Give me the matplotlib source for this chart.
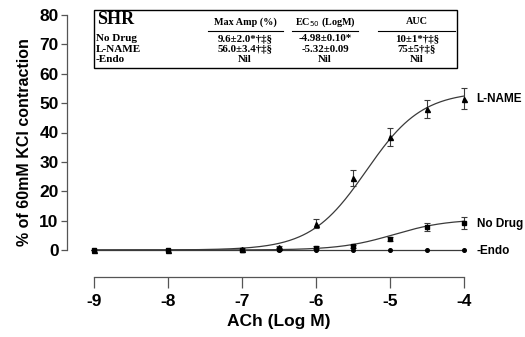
import numpy as np
import matplotlib
matplotlib.use("Agg")
import matplotlib.pyplot as plt

# concentration-response data (ACh, log M)
logAch = [-9, -8, -7, -6.5, -6, -5.5, -5, -4.5, -4]
lname = [0, 0, 0.3, 1.0, 9.0, 24.5, 38.5, 48.0, 51.5]
lnameErr = [0, 0, 0.3, 0.5, 1.5, 2.8, 3.0, 3.0, 3.5]
noDrug = [0, 0, 0, 0.5, 0.8, 1.2, 3.8, 7.8, 9.3]
noDrugErr = [0, 0, 0, 0.3, 0.4, 0.5, 0.6, 1.3, 2.0]
endo = [0, 0, 0, 0, 0, 0, 0, 0, 0]

# sigmoid fit parameters (top, logEC50, slope)
lnameFit = (54.0, -5.32, 1.15)
noDrugFit = (10.5, -4.95, 1.2)

tableHeaders = ["Max Amp (%)", r"EC$_{50}$ (LogM)", "AUC"]
tableRows = ["No Drug", "L-NAME", "-Endo"]
tableCells = [["9.6±2.0*†‡§", "-4.98±0.10*", "10±1*†‡§"],
              ["56.0±3.4†‡§", "-5.32±0.09", "75±5†‡§"],
              ["Nil", "Nil", "Nil"]]

W, H = 525, 337
fig = plt.figure(figsize=(W / 100, H / 100), dpi=100)

# axes placed in pixel terms: y spine at x=67, -9 at x=94, -4 at x=464
pxPerDec = 74.0
x0 = -9 - (94 - 67) / pxPerDec
x1 = -4 + (W - 464) / pxPerDec
pxPerUnit = (250 - 15) / 80.0
yBot = -(277 - 250) / pxPerUnit
yTop = 80 + (15 - 8) / pxPerUnit
ax = fig.add_axes([67 / W, (H - 277) / H, (W - 67) / W, (277 - 8) / H])
ax.set_xlim(x0, x1)
ax.set_ylim(yBot, yTop)

xs = np.linspace(-9, -4, 300)


def hill(x, top, ec50, slope):
    return top / (1 + 10 ** (slope * (ec50 - x)))


lc = "#3a3a3a"
ax.plot(xs, hill(xs, *lnameFit), color=lc, lw=0.9, clip_on=False)
ax.plot(xs, hill(xs, *noDrugFit), color=lc, lw=0.9, clip_on=False)
ax.plot(logAch, endo, color=lc, lw=0.9, clip_on=False)

ebKw = dict(ecolor=lc, elinewidth=0.8, capsize=2.5, capthick=0.8,
            linestyle="none", color="black", clip_on=False)
ax.errorbar(logAch, lname, yerr=lnameErr, marker="^", ms=3.6, **ebKw)
ax.errorbar(logAch, noDrug, yerr=noDrugErr, marker="s", ms=3.2, **ebKw)
ax.errorbar(logAch, endo, marker="o", ms=2.6, linestyle="none",
            color="black", clip_on=False)

lblKw = dict(fontsize=8.5, fontweight="bold", family="Liberation Sans",
             va="center", ha="left")
ax.text(-3.83, 51.3, "L-NAME", **lblKw)
ax.text(-3.83, 9.0, "No Drug", **lblKw)
ax.text(-3.83, -0.3, "-Endo", **lblKw)

for s in ["top", "right"]:
    ax.spines[s].set_visible(False)
ax.spines["left"].set_bounds(0, 80)
ax.spines["bottom"].set_bounds(-9, -4)
for s in ["left", "bottom"]:
    ax.spines[s].set_color("#555555")
    ax.spines[s].set_linewidth(0.9)

ax.set_yticks(range(0, 81, 10))
ax.set_xticks([-9, -8, -7, -6, -5, -4])
ax.set_xticklabels(["-9", "-8", "-7", "-6", "-5", "-4"])
ax.tick_params(axis="y", direction="out", length=4, width=0.9,
               color="#555555", labelsize=12.5, pad=2)
ax.tick_params(axis="x", direction="out", length=8, width=0.9,
               color="#555555", labelsize=12.5, pad=4)
for t in ax.get_xticklabels() + ax.get_yticklabels():
    t.set_fontweight("bold")
    t.set_family("Liberation Sans")

ax.set_xlabel("ACh (Log M)", fontsize=12.5, fontweight="bold",
              family="Liberation Sans", labelpad=4)
ax.xaxis.label.set_x((279 - 67) / (W - 67))
ax.set_ylabel("% of 60mM KCl contraction", fontsize=11.5, fontweight="bold",
              family="Liberation Sans", labelpad=5)

# inset table drawn in figure pixel coordinates
def fx(px):
    return px / W


def fy(py):
    return 1 - py / H


fig.add_artist(plt.Rectangle((fx(94), fy(68)), fx(457) - fx(94),
                             fy(10) - fy(68), transform=fig.transFigure,
                             fill=False, edgecolor="black", lw=1.0))
serif = "Liberation Serif"
fig.text(fx(97), fy(20), "SHR", fontsize=13, fontweight="bold",
         family=serif, va="center", ha="left")
colX = [245, 325, 417]
colSpan = [(208, 283), (292, 358), (378, 455)]
for cx, hdr, (a, b) in zip(colX, tableHeaders, colSpan):
    fig.text(fx(cx), fy(22), hdr, fontsize=7.3, fontweight="bold",
             family=serif, va="center", ha="center")
    fig.add_artist(plt.Line2D([fx(a), fx(b)], [fy(31), fy(31)],
                              transform=fig.transFigure, color="black",
                              lw=0.8))
rowY = [38.5, 49, 59.5]
for ry, name, cells in zip(rowY, tableRows, tableCells):
    fig.text(fx(96), fy(ry), name, fontsize=8, fontweight="bold",
             family=serif, va="center", ha="left")
    for cx, c in zip(colX, cells):
        fig.text(fx(cx), fy(ry), c, fontsize=7.8, fontweight="bold",
                 family=[serif, "DejaVu Serif"], va="center", ha="center")

fig.savefig("out.png", dpi=100)
